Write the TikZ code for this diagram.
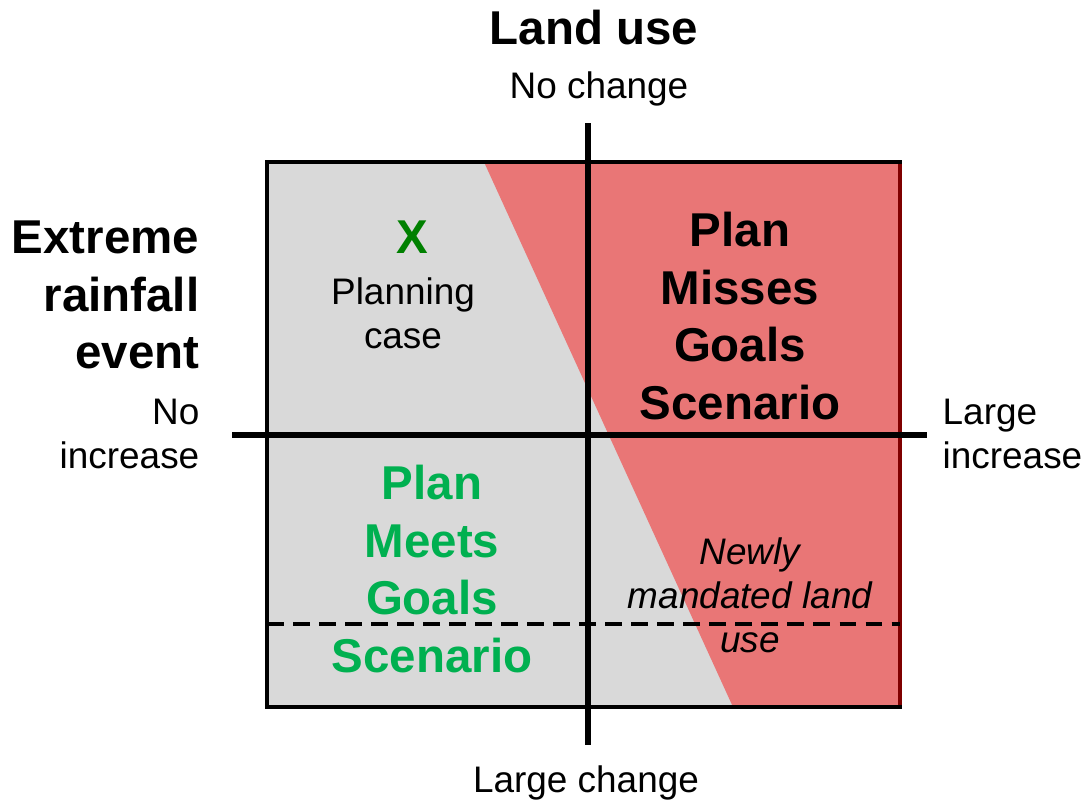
\documentclass[tikz,border=0pt]{standalone}
\usepackage{fontspec}
\setmainfont{Liberation Sans}
\usepackage{xcolor}
\definecolor{boxgray}{HTML}{D9D9D9}
\definecolor{missred}{HTML}{E97676}
\definecolor{edgered}{HTML}{7F0000}
\definecolor{xgreen}{HTML}{008000}
\definecolor{meetgreen}{HTML}{00B050}
\begin{document}
\begin{tikzpicture}[x=0.01cm,y=-0.01cm]
\tikzstyle{every node}+=[inner sep=0pt]
\tikzstyle{bigtext}=[font=\fontsize{13.5}{16.4}\selectfont\bfseries, align=center]
\tikzstyle{smalltext}=[font=\fontsize{10.5}{12.5}\selectfont, align=center]
\useasboundingbox (0,0) rectangle (1084,802);
% quadrant box
\fill [boxgray] (267,162) rectangle (900,707);
\fill [missred] (484,162) -- (900,162) -- (900,707) -- (733,707) -- cycle;
\draw [black, line width=1.3pt] (267,162) rectangle (900,707);
\draw [edgered, line width=1.1pt] (900,164) -- (900,705);
\draw [black, line width=1.4pt, dash pattern=on 4.8pt off 2.6pt] (267,624) -- (900,624);
% axes
\draw [black, line width=1.5pt] (588,123) -- (588,745);
\draw [black, line width=1.5pt] (232,435) -- (927,435);
% axis labels
\draw (594,28) node [bigtext] (landuse) {Land use};
\draw (599,89) node [smalltext] (nochange) {No change};
\draw (586,783) node [smalltext] (largechange) {Large change};
\draw (200,295) node [bigtext, align=right, anchor=east] (rainfall) {Extreme\\rainfall\\event};
\draw (200,434) node [smalltext, align=right, anchor=east] (noincrease) {No\\increase};
\draw (942,434) node [smalltext, align=left, anchor=west] (largeincrease) {Large\\increase};
% quadrant texts
\draw (412,237) node [bigtext, text=xgreen] (xmark) {X};
\draw (403,313) node [smalltext] (planning) {Planning\\case};
\draw (740,316) node [bigtext] (misses) {Plan\\Misses\\Goals\\Scenario};
\draw (432,569) node [bigtext, text=meetgreen] (meets) {Plan\\Meets\\Goals\\Scenario};
\draw (750,595) node [smalltext, font=\fontsize{10.5}{12.5}\selectfont\itshape] (mandated) {Newly\\mandated land\\use};
\end{tikzpicture}
\end{document}
